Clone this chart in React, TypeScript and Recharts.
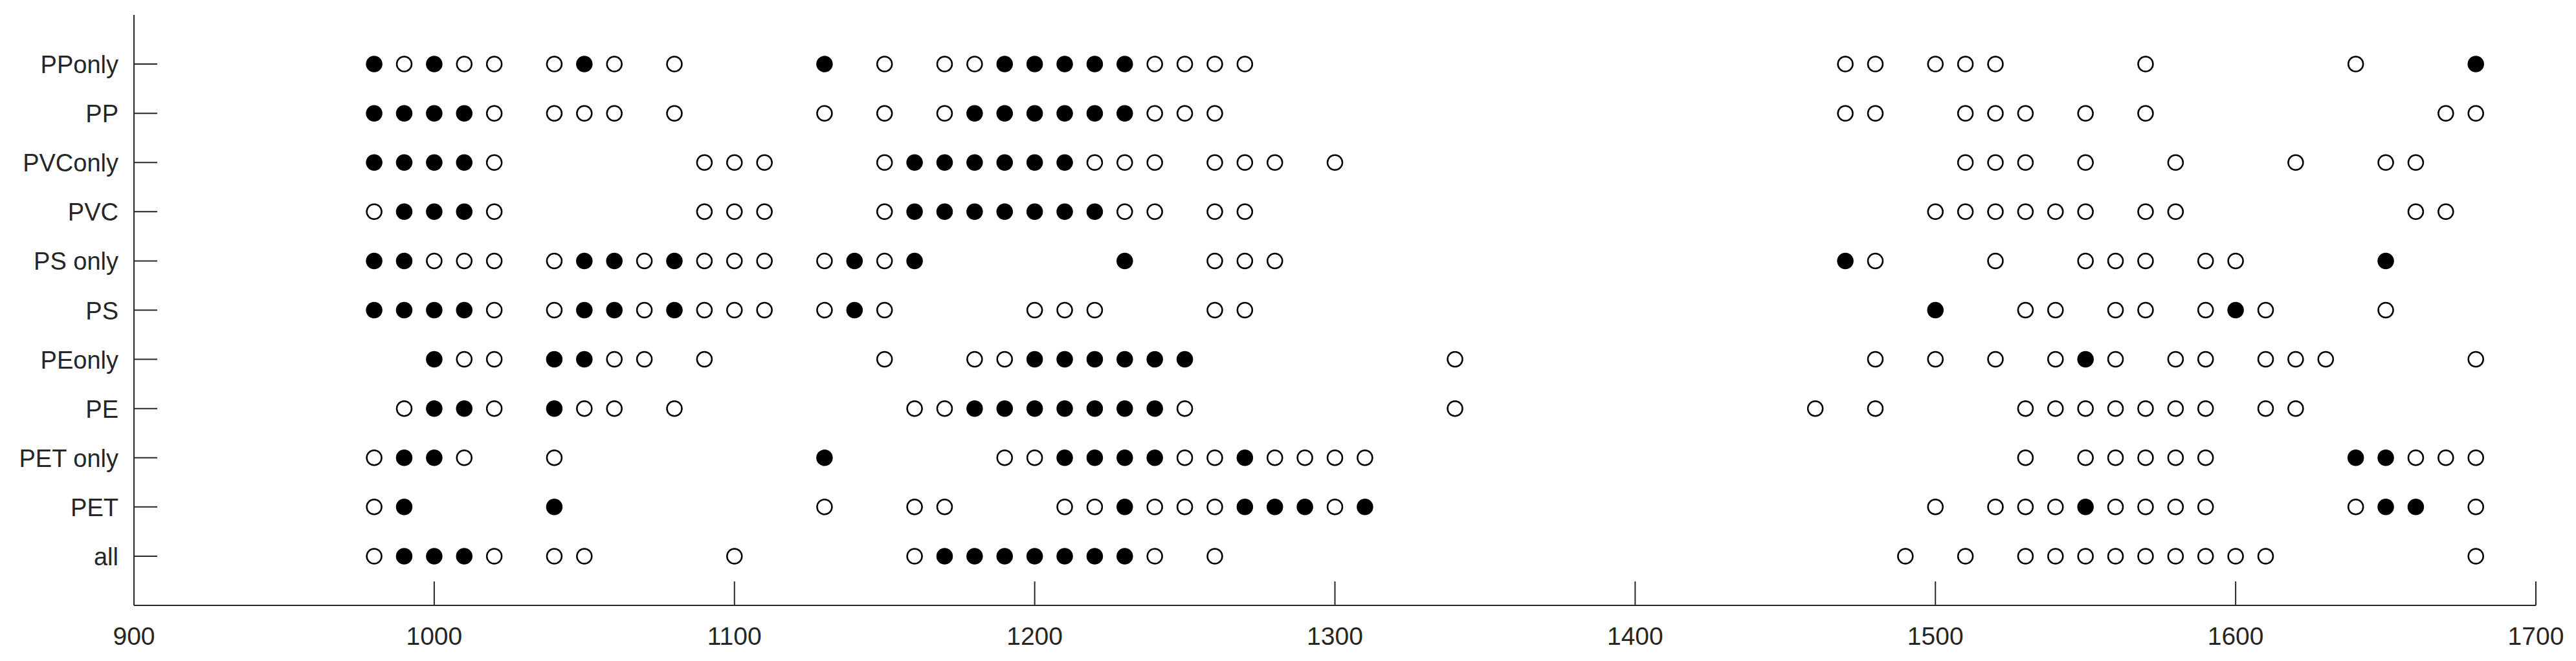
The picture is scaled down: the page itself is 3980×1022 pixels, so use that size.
import React from "react"
import { ScatterChart, Scatter, XAxis, YAxis } from "recharts"

// rows from bottom to top
const categories = ["all", "PET", "PET only", "PE", "PEonly", "PS", "PS only", "PVC", "PVConly", "PP", "PPonly"]

const allFilled = [990, 1000, 1010, 1170, 1180, 1190, 1200, 1210, 1220, 1230]
const allOpen = [980, 1020, 1040, 1050, 1100, 1160, 1240, 1260, 1490, 1510, 1530, 1540, 1550, 1560, 1570, 1580, 1590, 1600, 1610, 1680]

const petFilled = [990, 1040, 1230, 1270, 1280, 1290, 1310, 1550, 1650, 1660]
const petOpen = [980, 1130, 1160, 1170, 1210, 1220, 1240, 1250, 1260, 1300, 1500, 1520, 1530, 1540, 1560, 1570, 1580, 1590, 1640, 1680]

const petOnlyFilled = [990, 1000, 1130, 1210, 1220, 1230, 1240, 1270, 1640, 1650]
const petOnlyOpen = [980, 1010, 1040, 1190, 1200, 1250, 1260, 1280, 1290, 1300, 1310, 1530, 1550, 1560, 1570, 1580, 1590, 1660, 1670, 1680]

const peFilled = [1000, 1010, 1040, 1180, 1190, 1200, 1210, 1220, 1230, 1240]
const peOpen = [990, 1020, 1050, 1060, 1080, 1160, 1170, 1250, 1340, 1460, 1480, 1530, 1540, 1550, 1560, 1570, 1580, 1590, 1610, 1620]

const peOnlyFilled = [1000, 1040, 1050, 1200, 1210, 1220, 1230, 1240, 1250, 1550]
const peOnlyOpen = [1010, 1020, 1060, 1070, 1090, 1150, 1180, 1190, 1340, 1480, 1500, 1520, 1540, 1560, 1580, 1590, 1610, 1620, 1630, 1680]

const psFilled = [980, 990, 1000, 1010, 1050, 1060, 1080, 1140, 1500, 1600]
const psOpen = [1020, 1040, 1070, 1090, 1100, 1110, 1130, 1150, 1200, 1210, 1220, 1260, 1270, 1530, 1540, 1560, 1570, 1590, 1610, 1650]

const psOnlyFilled = [980, 990, 1050, 1060, 1080, 1140, 1160, 1230, 1470, 1650]
const psOnlyOpen = [1000, 1010, 1020, 1040, 1070, 1090, 1100, 1110, 1130, 1150, 1260, 1270, 1280, 1480, 1520, 1550, 1560, 1570, 1590, 1600]

const pvcFilled = [990, 1000, 1010, 1160, 1170, 1180, 1190, 1200, 1210, 1220]
const pvcOpen = [980, 1020, 1090, 1100, 1110, 1150, 1230, 1240, 1260, 1270, 1500, 1510, 1520, 1530, 1540, 1550, 1570, 1580, 1660, 1670]

const pvcOnlyFilled = [980, 990, 1000, 1010, 1160, 1170, 1180, 1190, 1200, 1210]
const pvcOnlyOpen = [1020, 1090, 1100, 1110, 1150, 1220, 1230, 1240, 1260, 1270, 1280, 1300, 1510, 1520, 1530, 1550, 1580, 1620, 1650, 1660]

const ppFilled = [980, 990, 1000, 1010, 1180, 1190, 1200, 1210, 1220, 1230]
const ppOpen = [1020, 1040, 1050, 1060, 1080, 1130, 1150, 1170, 1240, 1250, 1260, 1470, 1480, 1510, 1520, 1530, 1550, 1570, 1670, 1680]

const ppOnlyFilled = [980, 1000, 1050, 1130, 1190, 1200, 1210, 1220, 1230, 1680]
const ppOnlyOpen = [990, 1010, 1020, 1040, 1060, 1080, 1150, 1170, 1180, 1240, 1250, 1260, 1270, 1470, 1480, 1500, 1510, 1520, 1570, 1640]

const xTicks = [900, 1000, 1100, 1200, 1300, 1400, 1500, 1600, 1700]

const filledRows = [allFilled, petFilled, petOnlyFilled, peFilled, peOnlyFilled, psFilled, psOnlyFilled, pvcFilled, pvcOnlyFilled, ppFilled, ppOnlyFilled]
const openRows = [allOpen, petOpen, petOnlyOpen, peOpen, peOnlyOpen, psOpen, psOnlyOpen, pvcOpen, pvcOnlyOpen, ppOpen, ppOnlyOpen]

const toPoints = (rows: number[][]) =>
  rows.flatMap((xs, i) => xs.map((x) => ({ x, y: i + 1 })))

const filledData = toPoints(filledRows)
const openData = toPoints(openRows)

const ink = "#262626"
const font = "'Liberation Sans', Arial, Helvetica, sans-serif"

const XTick = (props: any) => {
  const { x, y, payload } = props
  return (
    <g>
      <line x1={x} y1={y} x2={x} y2={y - 37} stroke={ink} strokeWidth={2} />
      <text x={x} y={y + 61} textAnchor="middle" fill={ink} fontSize={39} fontFamily={font}>
        {payload.value}
      </text>
    </g>
  )
}

const YTick = (props: any) => {
  const { x, y, payload } = props
  return (
    <g>
      <line x1={x} y1={y} x2={x + 36} y2={y} stroke={ink} strokeWidth={2} />
      <text x={x - 24} y={y + 14} textAnchor="end" fill={ink} fontSize={38} fontFamily={font}>
        {categories[payload.value - 1]}
      </text>
    </g>
  )
}

const Dot = (fill: string) => (props: any) =>
  <circle cx={props.cx} cy={props.cy} r={11.5} fill={fill} stroke="#000" strokeWidth={2.5} />

export default function App() {
  return (
    <div style={{ position: "absolute", left: 0, top: 0, width: 3980, height: 1022, background: "#fff" }}>
      <ScatterChart width={3980} height={1022} margin={{ top: 23, right: 62, bottom: 0, left: 0 }}>
        <XAxis
          type="number"
          dataKey="x"
          domain={[900, 1700]}
          ticks={xTicks}
          interval={0}
          height={86}
          tickSize={0}
          tickMargin={0}
          tickLine={false}
          axisLine={{ stroke: ink, strokeWidth: 2 }}
          tick={<XTick />}
        />
        <YAxis
          type="number"
          dataKey="y"
          domain={[0, 12]}
          ticks={[1, 2, 3, 4, 5, 6, 7, 8, 9, 10, 11]}
          interval={0}
          width={207}
          tickSize={0}
          tickMargin={0}
          tickLine={false}
          axisLine={{ stroke: ink, strokeWidth: 2 }}
          tick={<YTick />}
        />
        <Scatter data={openData} shape={Dot("#fff")} isAnimationActive={false} />
        <Scatter data={filledData} shape={Dot("#000")} isAnimationActive={false} />
      </ScatterChart>
    </div>
  )
}
